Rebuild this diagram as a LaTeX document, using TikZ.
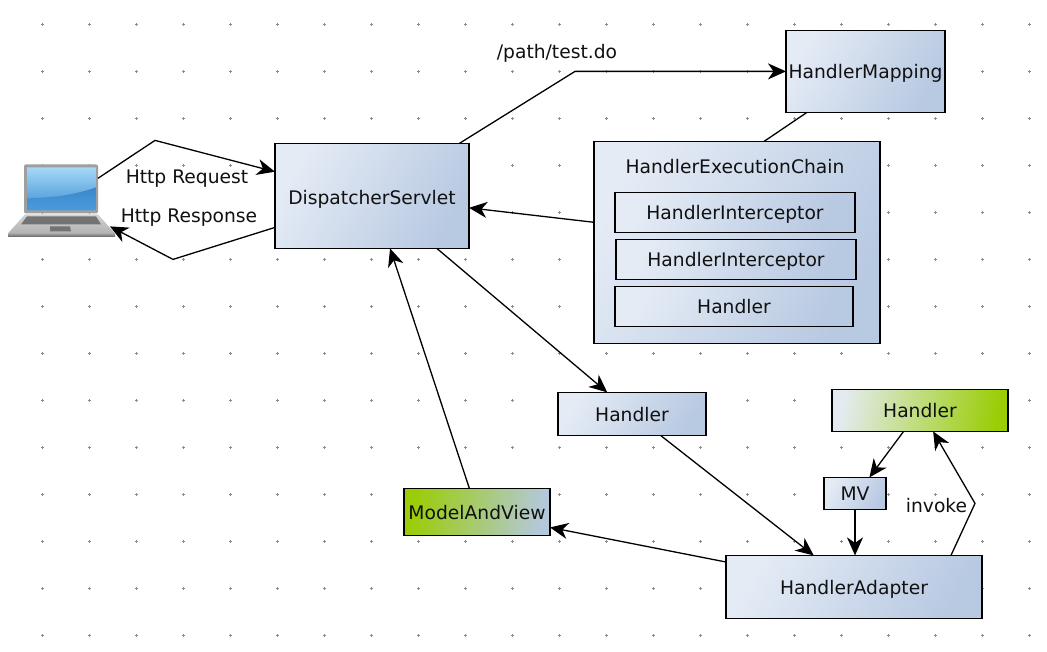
\documentclass[tikz,border=0pt]{standalone}
\usepackage{fontspec}
\setmainfont{DejaVu Sans}
\usetikzlibrary{arrows.meta,calc}
\definecolor{bluelight}{HTML}{E4EBF5}
\definecolor{bluedark}{HTML}{B8C9E2}
\definecolor{greenhi}{HTML}{9ACD05}
\definecolor{greenlow}{HTML}{E4EBF0}
\definecolor{greenblue}{HTML}{B4C8DC}
\definecolor{griddot}{HTML}{8C8C8C}
\definecolor{scrtop}{HTML}{A6D8F7}
\definecolor{scrmid}{HTML}{5BA4DE}
\definecolor{scrlow}{HTML}{3A88CC}
\definecolor{scrbot}{HTML}{4B9BDC}
\definecolor{ink}{HTML}{111111}
\tikzset{
  x=1pt,y=-1pt,
  txt/.style={font=\fontsize{18.7pt}{22pt}\selectfont,text=ink,text height=14.6pt,text depth=0pt},
  box/.style={draw=black,line width=1.15pt,inner sep=0pt,outer sep=0pt,txt,
    shade,shading=axis,left color=bluelight,right color=bluedark,shading angle=60},
  greenbox/.style={box,left color=greenlow,right color=greenhi,shading angle=80},
  greenboxb/.style={box,left color=greenhi,right color=greenblue,shading angle=80},
  conn/.style={draw=black,line width=1.3pt,line join=miter},
  arr/.style={conn,-{Stealth[length=18pt,width=16pt,inset=5.5pt]}},
  lab/.style={txt,inner sep=0pt},
}
\newcommand{\bx}[7][box]{\node[#1,minimum width=#6pt,minimum height=#7pt] (#2) at (#3,#4) {#5};}
\begin{document}
\begin{tikzpicture}
\useasboundingbox (0,-0.4) rectangle (1047,651.6);
\fill[white] (0,-0.4) rectangle (1047,651.6);
% grid
\foreach \i in {0,...,21}{\foreach \j in {0,...,13}{
  \draw[griddot,line width=0.4pt] ({42.5+47*\i-1.2},{24+47*\j}) -- ({42.5+47*\i+1.2},{24+47*\j})
    ({42.5+47*\i},{24+47*\j-1.2}) -- ({42.5+47*\i},{24+47*\j+1.2});
}}
% laptop
\shade[top color=gray!35,bottom color=gray!60] (25,214) -- (98,214) -- (115,233) -- (8,233) -- cycle;
\shade[top color=gray!70,bottom color=gray!85!black] (8,233) rectangle (115,236);
\fill[black!55] (27,216) -- (96,216) -- (101,224) -- (21,224) -- cycle;
\fill[black!55] (50,226) -- (70,226) -- (71,231) -- (50,231) -- cycle;
\node[fill=gray!75,rounded corners=2pt,inner sep=0pt,outer sep=0pt,minimum width=74pt,minimum height=49pt] (screen) at (61,188.5) {};
\shade[top color=scrtop,bottom color=scrmid] (27,167) -- (96,167) -- (96,187) .. controls (70,196) and (50,197) .. (27,198) -- cycle;
\shade[top color=scrlow,bottom color=scrbot] (27,198) .. controls (50,197) and (70,196) .. (96,187) -- (96,210) -- (27,210) -- cycle;
\coordinate (lapbase) at (110,226);
% boxes
\bx{hm}{865.5}{71}{HandlerMapping}{159}{82}
\bx[box,text height=17.2pt]{ds}{372}{195.5}{DispatcherServlet}{194}{105}
\node[box,minimum width=286pt,minimum height=202pt] (hec) at (737,242) {};
\node[lab] (hectitle) at (735,165.5) {HandlerExecutionChain};
\bx{hia}{735}{212}{HandlerInterceptor}{240}{40}
\bx{hib}{736}{259}{HandlerInterceptor}{240}{40}
\bx{hin}{734}{306}{Handler}{238}{40}
\bx{hmid}{632}{413.5}{Handler}{148}{43}
\bx[greenbox]{hg}{920}{410}{Handler}{176}{42}
\bx{mv}{855}{493}{MV}{62}{32}
\bx[greenboxb]{mav}{477}{511.5}{ModelAndView}{146}{47}
\bx{ha}{854}{586.5}{HandlerAdapter}{256}{63}
% connectors
\coordinate (w1) at (575,71);
\coordinate (w2) at (155,140);
\coordinate (w3) at (173,259);
\coordinate (w4) at (975,503);
\draw[arr] (ds.31.4) -- (w1) -- (hm.west);
\draw[conn] (hm.215.5) -- (hec.75);
\draw[arr] (hec.172.8) -- (ds.353.3);
\draw[arr] (ds.-39.8) -- (hmid.139.3);
\draw[arr] (hmid.-37.5) -- (ha.142.5);
\draw[arr] (ha.169.2) -- (mav.-12);
\draw[arr] (mav.108.8) -- (ds.-71.1);
\draw[arr] (hg.232.7) -- (mv.48.8);
\draw[arr] (mv.south) -- (mv.south |- ha.north);
\draw[arr] (ha.18.2) -- (w4) -- (hg.-58.2);
\draw[arr] (screen.16.6) -- (w2) -- (ds.166.4);
\draw[arr] (ds.198) -- (w3) -- (lapbase);
% labels
\node[lab] (l1) at (557,51) {/path/test.do};
\node[lab] (l2) at (187,175.5) {Http Request};
\node[lab] (l3) at (189,214.5) {Http Response};
\node[lab] (l4) at (936.5,504.5) {invoke};
\end{tikzpicture}
\end{document}
